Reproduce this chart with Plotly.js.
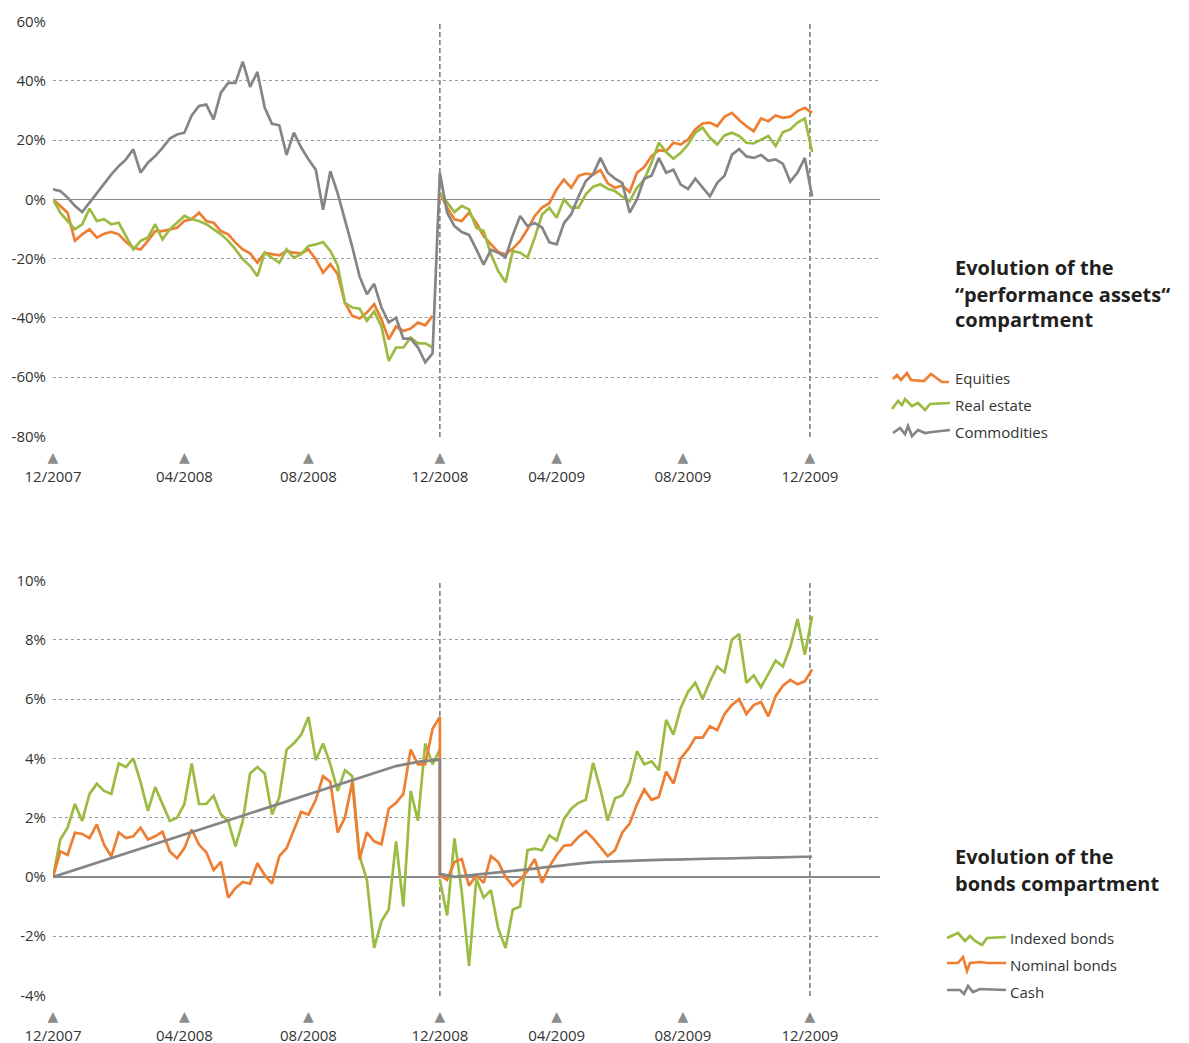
<!DOCTYPE html>
<html><head><meta charset="utf-8">
<script src="https://cdn.plot.ly/plotly-3.0.1.min.js"></script>
<style>html,body{margin:0;padding:0;background:#fff}</style>
</head><body><div id="chart" style="width:1189px;height:1043px"></div>
<script>
// ---- tick labels (x axis: point index; one point per week) ----
const tickPositions = [0, 18, 35, 53, 69, 86.3, 103.7];
const tickLabels = ['12/2007','04/2008','08/2008','12/2008','04/2009','08/2009','12/2009'];
const yearBreak = 53;            // index of the first point of the second year
const perfTicks = [-80,-60,-40,-20,0,20,40,60];
const perfTickText = ['-80%','-60%','-40%','-20%','0%','20%','40%','60%'];
const bondTicks = [-4,-2,0,2,4,6,8,10];
const bondTickText = ['-4%','-2%','0%','2%','4%','6%','8%','10%'];

// ---- performance assets (%, weekly) ----
const equities2008 = [0,-2.2,-4.5,-14,-11.8,-10.1,-12.9,-11.6,-11,-11.8,-14.4,-16.3,-16.9,-14,-10.7,-10.7,-10.1,-9.6,-7.3,-6.7,-4.5,-7.3,-7.9,-10.7,-11.8,-14.6,-16.9,-18.2,-21.4,-18,-18.5,-18.9,-17.4,-18,-18.2,-16.9,-20.2,-24.7,-21.9,-25.3,-34.9,-39.3,-40.2,-38.2,-35.4,-40.5,-47.2,-42.9,-44.4,-43.6,-41.6,-42.5,-39.3];
const equities2009 = [2,-2.8,-6.7,-7.3,-4.5,-7.9,-12.4,-15.2,-17.8,-18.5,-16.6,-14,-10.1,-5.6,-2.8,-1.3,3.4,6.7,3.9,7.9,8.7,8.4,9.9,5.4,3.9,4.7,2.5,9,10.9,14.6,16.6,16.3,19.1,18.5,20.2,23.6,25.6,25.9,24.7,27.9,29.2,26.8,24.7,23,27.3,26.4,28.3,27.5,27.9,29.8,30.9,29.2];
const realEstate2008 = [0,-4.5,-7.3,-10.1,-8.4,-3.1,-7.3,-6.7,-8.4,-7.9,-12.4,-16.9,-14,-12.9,-8.4,-13.5,-10.1,-7.9,-5.6,-6.7,-7.3,-8.4,-10.1,-11.8,-14,-16.9,-20.2,-22.5,-25.9,-18,-19.7,-21.4,-16.9,-19.7,-18.5,-15.7,-15.2,-14.4,-17.4,-22.3,-34.9,-36.5,-36.9,-41,-37.8,-42.9,-54.5,-50,-50,-46.7,-48.6,-48.6,-50];
const realEstate2009 = [2.2,-1.1,-4.3,-2.2,-3.4,-9.6,-10.7,-18.5,-24.2,-28,-17.4,-18,-19.7,-12.9,-5.1,-2.8,-6.2,0,-2.8,-2.8,1.7,4.3,5.1,3.6,2.8,0.9,-0.6,3.9,6.7,12.4,19.1,16,13.7,15.7,18.5,22.5,24.2,20.8,18.5,21.6,22.5,21.4,19.1,18.9,20.2,21.4,18,22.7,23.6,25.9,27.3,16];
const commodities2008 = [3.4,2.8,0.6,-2.2,-4.3,-1.1,2.0,5.1,8.4,11.2,13.5,16.9,9.0,12.4,14.6,17.4,20.5,21.9,22.5,28.3,31.5,32,27,36,39.3,39.3,46.5,38,43,31,25.5,25,15,22.5,17.5,13.5,10,-3.5,9.5,2,-7,-16,-26,-32,-28.5,-36.5,-41.5,-40,-47,-47,-50,-55,-52];
const commodities2009 = [9,-4.5,-9,-11,-12,-16.9,-22,-17,-18,-19.5,-12,-5.6,-9,-8,-9.5,-14.5,-15.2,-8,-5,1,6.2,8.5,14,9,7,5.5,-4.5,0,7,8,14,9,10,5,3.5,7,4,1,5.6,8,15,17,14.5,14,15,13,13.5,12,6,9,14,1];

// ---- bonds (%, weekly) ----
const indexed2008 = [0,1.26,1.66,2.46,1.89,2.8,3.14,2.9,2.8,3.83,3.71,4.0,3.2,2.23,3.03,2.46,1.89,2.0,2.46,3.83,2.46,2.46,2.74,2.11,1.89,1.03,1.89,3.49,3.71,3.49,2.11,2.69,4.29,4.51,4.8,5.4,3.94,4.5,3.8,2.9,3.6,3.4,0.7,-0.1,-2.4,-1.5,-1.1,1.2,-1.0,2.9,1.9,4.5,3.8,4.3];
const indexed2009 = [-0.1,-1.3,1.3,-0.5,-3.0,-0.06,-0.7,-0.45,-1.75,-2.4,-1.1,-1.0,0.9,0.95,0.9,1.4,1.23,1.95,2.3,2.5,2.6,3.85,2.95,1.9,2.65,2.75,3.2,4.24,3.8,3.9,3.6,5.3,4.8,5.7,6.25,6.55,6.0,6.6,7.1,6.9,8.0,8.2,6.55,6.8,6.4,6.85,7.3,7.1,7.75,8.7,7.5,8.8];
const nominal2008 = [0,0.86,0.74,1.49,1.45,1.31,1.77,1.09,0.69,1.5,1.31,1.37,1.66,1.26,1.37,1.52,0.86,0.63,0.97,1.6,1.09,0.83,0.23,0.51,-0.7,-0.38,-0.17,-0.23,0.46,0.06,-0.23,0.7,0.97,1.6,2.2,2.1,2.6,3.4,3.2,1.5,2.0,3.2,0.6,1.5,1.2,1.1,2.3,2.5,2.8,4.3,3.8,3.8,5.0,5.4];
const nominal2009 = [0.05,-0.1,0.5,0.6,-0.3,0.06,-0.2,0.7,0.5,0.0,-0.3,-0.1,0.2,0.6,-0.2,0.35,0.74,1.05,1.08,1.35,1.55,1.3,1.0,0.7,0.9,1.5,1.8,2.45,2.95,2.6,2.7,3.55,3.15,4.0,4.3,4.7,4.7,5.08,4.95,5.5,5.8,6.0,5.5,5.8,5.9,5.42,6.1,6.45,6.65,6.5,6.6,7.0];
const cash2008 = [0,0.08,0.16,0.24,0.32,0.40,0.48,0.56,0.64,0.72,0.80,0.88,0.95,1.03,1.11,1.19,1.27,1.35,1.43,1.51,1.59,1.67,1.75,1.83,1.91,1.99,2.07,2.15,2.23,2.31,2.39,2.47,2.55,2.62,2.70,2.78,2.86,2.94,3.02,3.10,3.18,3.26,3.34,3.42,3.50,3.58,3.66,3.74,3.79,3.84,3.88,3.91,3.94,3.96];
const cash2009 = [0.1,0.05,0.0,0.03,0.05,0.08,0.10,0.13,0.15,0.18,0.20,0.23,0.26,0.28,0.31,0.33,0.36,0.39,0.42,0.45,0.48,0.50,0.51,0.52,0.53,0.53,0.54,0.55,0.56,0.56,0.57,0.58,0.58,0.59,0.60,0.60,0.61,0.61,0.62,0.62,0.63,0.63,0.64,0.64,0.65,0.65,0.66,0.66,0.67,0.67,0.68,0.68];

const ORANGE = '#EE7E32', GREEN = '#9BBB42', GRAY = '#858585';
const W = 1189, H = 1043;
const FONT = 'Open Sans, Liberation Sans, Arial, sans-serif';

function series(y1, y2, connect) {
  const x = [], y = [];
  y1.forEach((v, i) => { x.push(i); y.push(v); });
  if (!connect) { x.push((y1.length - 1 + yearBreak) / 2); y.push(null); }
  y2.forEach((v, i) => { x.push(yearBreak + i); y.push(v); });
  return {x, y};
}
function trace(name, y1, y2, connect, color, xa, ya) {
  const s = series(y1, y2, connect);
  return {type: 'scatter', mode: 'lines', name, x: s.x, y: s.y, xaxis: xa, yaxis: ya,
    connectgaps: false, line: {color, width: 2.7}, showlegend: false, hoverinfo: 'skip'};
}

const data = [
  trace('Equities', equities2008, equities2009, false, ORANGE, 'x', 'y'),
  trace('Real estate', realEstate2008, realEstate2009, false, GREEN, 'x', 'y'),
  trace('Commodities', commodities2008, commodities2009, true, GRAY, 'x', 'y'),
  trace('Indexed bonds', indexed2008, indexed2009, false, GREEN, 'x2', 'y2'),
  trace('Nominal bonds', nominal2008, nominal2009, true, ORANGE, 'x2', 'y2'),
  trace('Cash', cash2008, cash2009, true, GRAY, 'x2', 'y2')
];

const tickText = tickLabels.map(t => '<span style="color:#8c8c8c;font-family:DejaVu Sans;font-size:14px">▲</span><br>' + t);
function xAxis(anchor) {
  return {domain: [53 / W, 880 / W], range: [0, 113.3], anchor,
    tickmode: 'array', tickvals: tickPositions, ticktext: tickText,
    tickfont: {family: FONT, size: 15, color: '#333'}, ticks: '', ticklabelstandoff: 9,
    showgrid: false, zeroline: false, showline: false, fixedrange: true};
}
function yAxis(anchor, dom, range, vals, text) {
  return {domain: dom, range, anchor, tickmode: 'array', tickvals: vals, ticktext: text,
    tickfont: {family: FONT, size: 15, color: '#333'}, ticks: '', ticklabelstandoff: 6,
    showgrid: true, gridcolor: '#9a9a9a', gridwidth: 1, griddash: 'dot',
    zeroline: true, zerolinecolor: '#8a8a8a', zerolinewidth: 1.3, showline: false, fixedrange: true};
}

const shapes = [];
[[3, 'x', 'y domain'], [6, 'x', 'y domain'], [3, 'x2', 'y2 domain'], [6, 'x2', 'y2 domain']].forEach(([i, xr, yr]) => {
  shapes.push({type: 'line', xref: xr, yref: yr, x0: tickPositions[i], x1: tickPositions[i], y0: 0, y1: 1,
    line: {color: '#7d7d7d', width: 1.6, dash: '5px,3px'}, layer: 'below'});
});

// legend icons (decorative zigzags, pixel positions converted to paper)
function icon(pts, color) {
  const p = pts.map((q, i) => (i ? 'L' : 'M') + (q[0] / W).toFixed(5) + ',' + (1 - q[1] / H).toFixed(5)).join(' ');
  return {type: 'path', xref: 'paper', yref: 'paper', path: p, line: {color, width: 2.7}};
}
shapes.push(icon([[893,379],[897,375],[901,380],[907,373],[911,380],[924,381],[931,374],[942,382],[949,382]], ORANGE));
shapes.push(icon([[892,409],[898,401],[902,405],[905,399],[912,406],[918,403],[925,410],[930,404],[950,403]], GREEN));
shapes.push(icon([[893,433],[900,428],[905,434],[908,426],[912,436],[918,430],[925,433],[932,432],[950,430]], GRAY));
shapes.push(icon([[947,938],[958,933],[965,941],[970,936],[975,941],[982,945],[987,938],[1006,937]], GREEN));
shapes.push(icon([[947,963],[958,963],[963,957],[967,971],[970,963],[980,962],[988,963],[1006,963]], ORANGE));
shapes.push(icon([[947,990],[960,990],[964,994],[968,986],[973,992],[980,989],[1006,990]], GRAY));

function label(text, px, py, opts) {
  return Object.assign({text, xref: 'paper', yref: 'paper', x: px / W, y: 1 - py / H,
    xanchor: 'left', yanchor: 'middle', showarrow: false,
    font: {family: FONT, size: 15, color: '#333'}}, opts || {});
}
const titleFont = {family: FONT, size: 20, color: '#231f20', weight: 'bold'};
const annotations = [
  label('<b>Evolution of the</b>', 953, 267, {font: titleFont}),
  label('<b>“performance assets“</b>', 953, 294, {font: titleFont}),
  label('<b>compartment</b>', 953, 320, {font: titleFont}),
  label('Equities', 953, 378),
  label('Real estate', 953, 405),
  label('Commodities', 953, 432),
  label('<b>Evolution of the</b>', 953, 856, {font: titleFont}),
  label('<b>bonds compartment</b>', 953, 883, {font: titleFont}),
  label('Indexed bonds', 1008, 938),
  label('Nominal bonds', 1008, 965),
  label('Cash', 1008, 992)
];

const layout = {
  width: W, height: H, margin: {l: 0, r: 0, t: 0, b: 0},
  paper_bgcolor: '#fff', plot_bgcolor: '#fff', showlegend: false,
  xaxis: xAxis('y'),
  yaxis: yAxis('x', [1 - 437 / H, 1 - 21 / H], [-80.2, 60.2], perfTicks, perfTickText),
  xaxis2: xAxis('y2'),
  yaxis2: yAxis('x2', [1 - 996 / H, 1 - 580 / H], [-4.02, 10.02], bondTicks, bondTickText),
  shapes, annotations, hovermode: false
};
Plotly.newPlot('chart', data, layout, {staticPlot: true, displayModeBar: false});
</script></body></html>
